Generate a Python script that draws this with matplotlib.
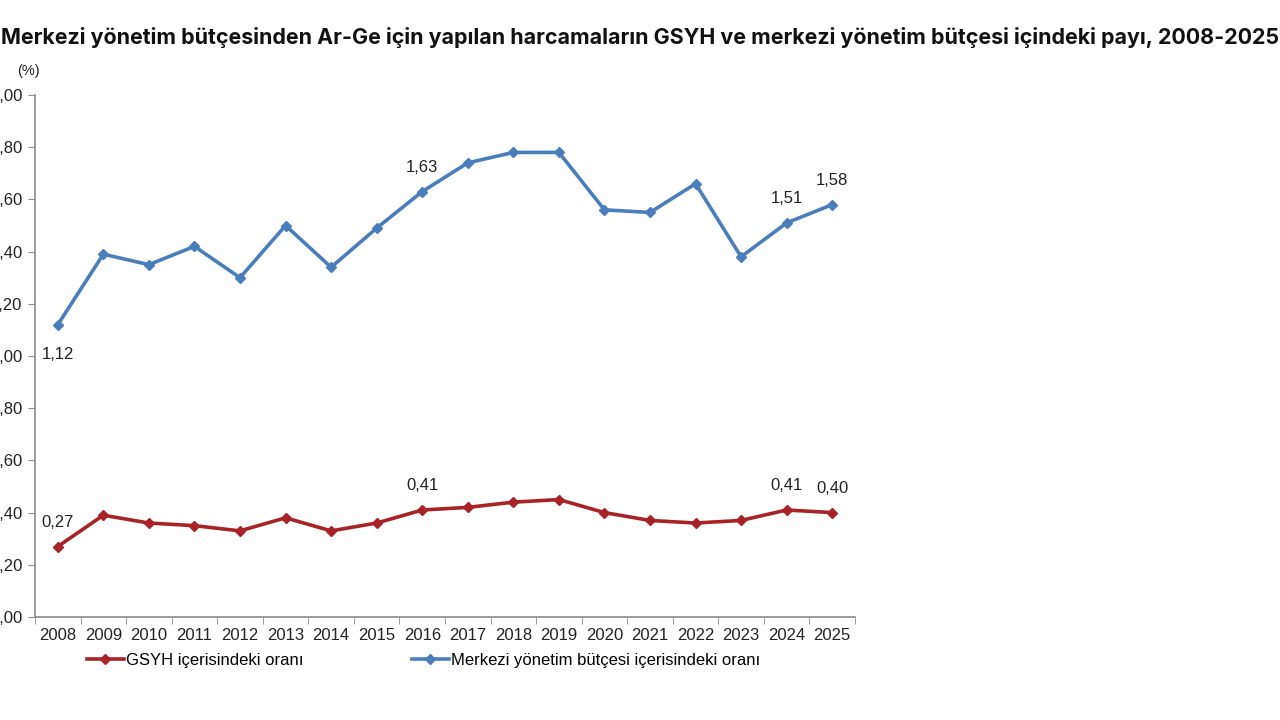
import matplotlib
matplotlib.use("Agg")
import matplotlib.pyplot as plt

# veriler
years = [str(y) for y in range(2008, 2026)]
gsyh = [0.27, 0.39, 0.36, 0.35, 0.33, 0.38, 0.33, 0.36, 0.41,
        0.42, 0.44, 0.45, 0.40, 0.37, 0.36, 0.37, 0.41, 0.40]
butce = [1.12, 1.39, 1.35, 1.42, 1.30, 1.50, 1.34, 1.49, 1.63,
         1.74, 1.78, 1.78, 1.56, 1.55, 1.66, 1.38, 1.51, 1.58]
yticks = [0.0, 0.2, 0.4, 0.6, 0.8, 1.0, 1.2, 1.4, 1.6, 1.8, 2.0]
ytick_labels = ["0,00", "0,20", "0,40", "0,60", "0,80", "1,00",
                "1,20", "1,40", "1,60", "1,80", "2,00"]
title = ("Merkezi yönetim bütçesinden Ar-Ge için yapılan harcamaların "
         "GSYH ve merkezi yönetim bütçesi içindeki payı, 2008-2025")
label_gsyh = "GSYH içerisindeki oranı"
label_butce = "Merkezi yönetim bütçesi içerisindeki oranı"

red = "#a82327"
blue = "#4a7ebb"
gray = "#8c8c8c"

plt.rcParams["font.family"] = ["Liberation Sans", "DejaVu Sans"]

fig = plt.figure(figsize=(12.8, 7.2), dpi=100)
ax = fig.add_axes([35 / 1280, 1 - 617 / 720, 820 / 1280, 522 / 720])

x = list(range(len(years)))
ax.plot(x, gsyh, color=red, lw=2.6, marker="D", ms=5.5, label=label_gsyh)
ax.plot(x, butce, color=blue, lw=2.6, marker="D", ms=5.5, label=label_butce)

ax.set_xlim(-0.5, len(years) - 0.5)
ax.set_ylim(0, 2.0)
ax.set_yticks(yticks)
ax.set_yticklabels(ytick_labels)
ax.set_xticks(x)
ax.set_xticklabels(years)
ax.set_xticks([i - 0.5 for i in range(len(years) + 1)], minor=True)
ax.tick_params(axis="x", which="major", length=0, pad=8, labelsize=12, colors="#222222")
ax.tick_params(axis="x", which="minor", length=5, color=gray)
ax.tick_params(axis="y", length=5, color=gray, labelsize=12, labelcolor="#222222", pad=4)

for s in ["top", "right"]:
    ax.spines[s].set_visible(False)
for s in ["left", "bottom"]:
    ax.spines[s].set_color(gray)
    ax.spines[s].set_linewidth(1.2)

# veri etiketleri
def fmt(v):
    return ("%.2f" % v).replace(".", ",")

lbl = dict(fontsize=12, color="#222222", ha="center")
ax.annotate(fmt(butce[0]), (0, butce[0]), xytext=(0, -16), textcoords="offset points", va="top", **lbl)
for i in [8, 16, 17]:
    ax.annotate(fmt(butce[i]), (i, butce[i]), xytext=(0, 12), textcoords="offset points", va="bottom", **lbl)
for i in [0, 8, 16, 17]:
    ax.annotate(fmt(gsyh[i]), (i, gsyh[i]), xytext=(0, 12), textcoords="offset points", va="bottom", **lbl)

fig.text(28 / 1280, 1 - 71 / 720, "(%)", fontsize=10.5, color="#222222", ha="center", va="center")

fig.text(0.5, 1 - 38 / 720, title, fontsize=15.4, fontweight="bold", family=["Inter", "DejaVu Sans"],
         ha="center", va="center", color="#111111")

fig.legend(loc="center left", bbox_to_anchor=(72 / 1280, 1 - 660 / 720), ncol=2, frameon=False,
           fontsize=12, handlelength=2.2, columnspacing=6.5, handletextpad=0.15)

fig.savefig("out.png", dpi=100, facecolor="white")
